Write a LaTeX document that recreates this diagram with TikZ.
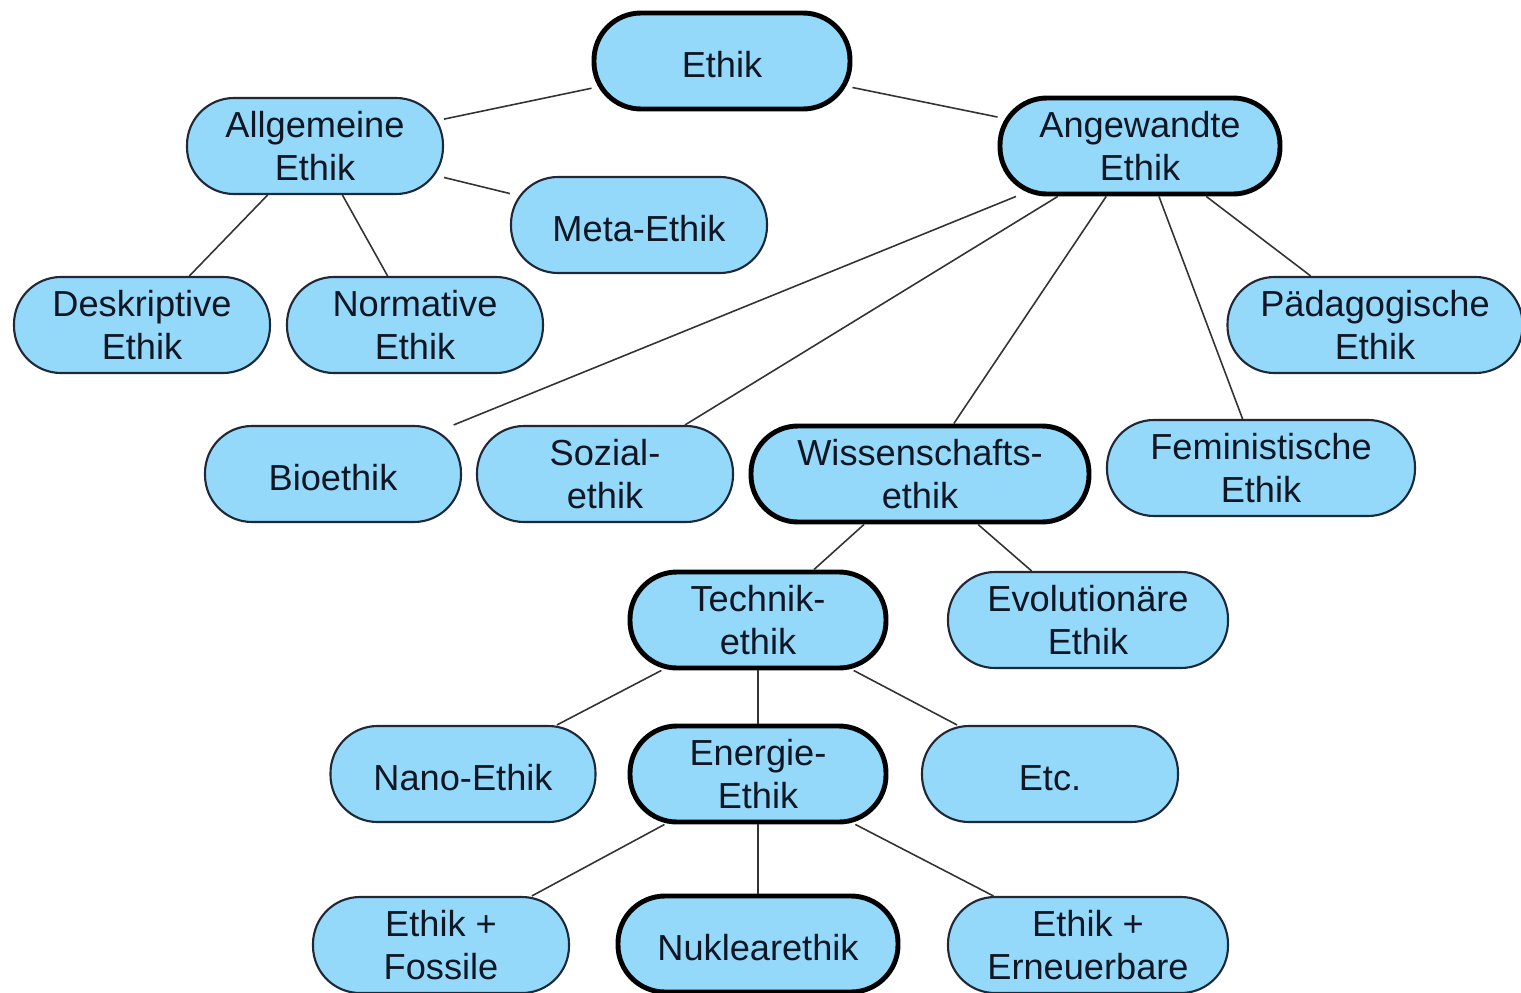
\documentclass[tikz,border=0pt]{standalone}
\usepackage{fontspec}
\setmainfont{Liberation Sans}
\definecolor{boxblue}{RGB}{148,217,250}
\definecolor{boxline}{RGB}{30,40,55}
\definecolor{textdark}{RGB}{16,22,36}
\begin{document}
\begin{tikzpicture}[
  topic/.style={draw=boxline, line width=0.6pt, fill=boxblue, rounded corners=0.47cm,
    minimum width=2.56cm, minimum height=0.96cm, inner sep=0pt, align=center,
    text=textdark, font=\fontsize{10.3pt}{12.4pt}\selectfont,
    execute at begin node={\rule{0pt}{9.7pt}}},
  main/.style={topic, draw=black, line width=1.4pt},
  link/.style={draw=black!80, line width=0.45pt}
]
\clip (0,0) rectangle (15.21,-9.93);
\fill[white] (0,0) rectangle (15.21,-9.93);

\node[main] (ethik) at (7.22,-0.61) {Ethik};
\node[topic] (allg) at (3.15,-1.46) {Allgemeine\\Ethik};
\node[main, minimum width=2.80cm] (angew) at (11.40,-1.46) {Angewandte\\Ethik};
\node[topic] (meta) at (6.39,-2.25) {Meta-Ethik};
\node[topic] (deskr) at (1.42,-3.25) {Deskriptive\\Ethik};
\node[topic] (norm) at (4.15,-3.25) {Normative\\Ethik};
\node[topic, minimum width=2.95cm] (paed) at (13.75,-3.25) {Pädagogische\\Ethik};

\node[topic] (bio) at (3.33,-4.74) {Bioethik};
\node[topic] (sozial) at (6.05,-4.74) {Sozial-\\ethik};
\node[main, minimum width=3.38cm] (wiss) at (9.20,-4.74) {Wissenschafts-\\ethik};
\node[topic, minimum width=3.08cm] (femin) at (12.61,-4.68) {Feministische\\Ethik};

\node[main] (technik) at (7.58,-6.20) {Technik-\\ethik};
\node[topic, minimum width=2.80cm] (evol) at (10.88,-6.20) {Evolutionäre\\Ethik};

\node[topic, minimum width=2.65cm] (nano) at (4.63,-7.74) {Nano-Ethik};
\node[main] (energie) at (7.58,-7.74) {Energie-\\Ethik};
\node[topic] (etc) at (10.50,-7.74) {Etc.};

\node[topic] (fossil) at (4.41,-9.45) {Ethik +\\Fossile};
\node[main, minimum width=2.80cm] (nuklear) at (7.58,-9.44) {Nuklearethik};
\node[topic, minimum width=2.80cm] (erneu) at (10.88,-9.45) {Ethik +\\Erneuerbare};

% connectors
\draw[link] (ethik) -- (allg);
\draw[link] (ethik) -- (angew);
\draw[link] (allg) -- (meta);
\draw[link] (allg) -- (deskr);
\draw[link] (allg) -- (norm);
\draw[link] (angew) -- (bio);
\draw[link] (angew) -- (sozial);
\draw[link] (angew) -- (wiss);
\draw[link] (angew) -- (femin);
\draw[link] (angew) -- (paed);
\draw[link] (wiss) -- (technik);
\draw[link] (wiss) -- (evol);
\draw[link] (technik) -- (nano);
\draw[link] (technik) -- (energie);
\draw[link] (technik) -- (etc);
\draw[link] (energie) -- (fossil);
\draw[link] (energie) -- (nuklear);
\draw[link] (energie) -- (erneu);

\end{tikzpicture}
\end{document}
